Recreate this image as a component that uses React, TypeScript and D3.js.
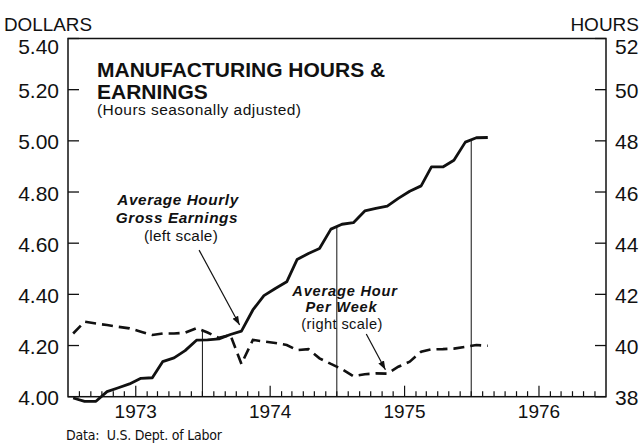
import * as d3 from "d3";
import { useMemo } from "react";

const WIDTH = 642;
const HEIGHT = 443;
const MARGIN = { top: 38.5, right: 36, bottom: 46.3, left: 68 };

// monthly observations, Jul 1972 - Aug 1975 (plotted mid-month)
const months = [
  "1972-07-15", "1972-08-15", "1972-09-15", "1972-10-15", "1972-11-15", "1972-12-15",
  "1973-01-15", "1973-02-15", "1973-03-15", "1973-04-15", "1973-05-15", "1973-06-15",
  "1973-07-15", "1973-08-15", "1973-09-15", "1973-10-15", "1973-11-15", "1973-12-15",
  "1974-01-15", "1974-02-15", "1974-03-15", "1974-04-15", "1974-05-15", "1974-06-15",
  "1974-07-15", "1974-08-15", "1974-09-15", "1974-10-15", "1974-11-15", "1974-12-15",
  "1975-01-15", "1975-02-15", "1975-03-15", "1975-04-15", "1975-05-15", "1975-06-15",
  "1975-07-15", "1975-08-15",
];

// average hourly gross earnings, dollars (left scale)
const earnings = [
  3.995, 3.982, 3.982, 4.02, 4.035, 4.05,
  4.072, 4.074, 4.137, 4.152, 4.18, 4.221,
  4.222, 4.226, 4.243, 4.256, 4.339, 4.395,
  4.423, 4.449, 4.536, 4.56, 4.579, 4.655,
  4.674, 4.68, 4.726, 4.736, 4.745, 4.775,
  4.803, 4.824, 4.898, 4.898, 4.924, 4.995,
  5.012, 5.013,
];

// average hours per week (right scale)
const hours = [
  40.47, 40.93, 40.86, 40.8, 40.73, 40.67,
  40.54, 40.41, 40.47, 40.47, 40.5, 40.68,
  40.51, 40.3, 40.41, 39.28, 40.22, 40.16,
  40.1, 40.02, 39.82, 39.86, 39.5, 39.28,
  39.08, 38.8, 38.88, 38.91, 38.9, 39.17,
  39.37, 39.76, 39.85, 39.86, 39.88, 39.95,
  40.02, 39.99,
];

const dollarTicks = [4.0, 4.2, 4.4, 4.6, 4.8, 5.0, 5.2, 5.4];
const hourTicks = [38, 40, 42, 44, 46, 48, 50, 52];
const yearLabels = ["1973", "1974", "1975", "1976"];
const markerDates = ["1973-07-01", "1974-07-01", "1975-07-01"];

const FONT = "'Liberation Sans', Arial, sans-serif";
const INK = "#111";

const parse = d3.timeParse("%Y-%m-%d");

export default function App() {
  const left = MARGIN.left;
  const right = WIDTH - MARGIN.right;
  const top = MARGIN.top;
  const bottom = HEIGHT - MARGIN.bottom;

  const dates = useMemo(() => months.map((m) => parse(m) as Date), []);

  const xScale = useMemo(
    () =>
      d3
        .scaleTime()
        .domain([new Date(1972, 6, 1), new Date(1976, 6, 1)])
        .range([left, right]),
    []
  );
  const yDollars = useMemo(() => d3.scaleLinear().domain([4.0, 5.4]).range([bottom, top]), []);
  const yHours = useMemo(() => d3.scaleLinear().domain([38, 52]).range([bottom, top]), []);

  const earnPath = d3
    .line<number>()
    .x((_, i) => xScale(dates[i]))
    .y((d) => yDollars(d))(earnings);

  const hoursPath = d3
    .line<number>()
    .x((_, i) => xScale(dates[i]))
    .y((d) => yHours(d))(hours);

  // piecewise interpolation of each series, for the drop lines
  const earnAt = d3.scaleTime().domain(dates).range(earnings);
  const hoursAt = d3.scaleTime().domain(dates).range(hours);

  const monthTicks = d3.timeMonth.range(new Date(1972, 7, 1), new Date(1976, 6, 1));

  const dropLines = markerDates.map((s, i) => {
    const d = parse(s) as Date;
    const yTop = Math.min(yDollars(earnAt(d)), yHours(hoursAt(d)));
    return (
      <line key={i} x1={xScale(d)} x2={xScale(d)} y1={yTop} y2={bottom} stroke={INK} strokeWidth={1} />
    );
  });

  // annotation arrows, anchored in data space
  const earnArrow = {
    from: [xScale(parse("1973-06-22") as Date), yDollars(4.573)],
    to: [xScale(parse("1973-10-10") as Date), yDollars(4.28)],
  };
  const hoursArrow = {
    from: [xScale(parse("1974-09-19") as Date), yHours(40.45)],
    to: [xScale(parse("1974-11-10") as Date), yHours(39.05)],
  };

  return (
    <svg
      width={WIDTH}
      height={HEIGHT}
      style={{ position: "absolute", left: 0, top: 0, background: "#fff" }}
      fontFamily={FONT}
    >
      <defs>
        <marker
          id="arrowhead"
          viewBox="0 0 10 10"
          refX={10}
          refY={5}
          markerWidth={9}
          markerHeight={9}
          markerUnits="userSpaceOnUse"
          orient="auto"
        >
          <path d="M0,1.5 L10,5 L0,8.5 Z" fill={INK} />
        </marker>
      </defs>

      {/* axis titles */}
      <text x={4} y={31} fontSize={19} fill={INK} textLength={88} lengthAdjust="spacingAndGlyphs">
        DOLLARS
      </text>
      <text x={639} y={31} fontSize={19} fill={INK} textAnchor="end">
        HOURS
      </text>

      {/* frame */}
      <rect x={left} y={top} width={right - left} height={bottom - top} fill="none" stroke={INK} strokeWidth={1.5} />

      {/* left ticks */}
      {dollarTicks.map((t, i) => (
        <g key={"l" + i}>
          <line x1={left} x2={left + 11} y1={yDollars(t)} y2={yDollars(t)} stroke={INK} strokeWidth={1.3} />
          <text
            x={59}
            y={yDollars(t) + (i === dollarTicks.length - 1 ? 8 : 1)}
            dy="0.36em"
            textAnchor="end"
            fontSize={21}
            fill={INK}
          >
            {t.toFixed(2)}
          </text>
        </g>
      ))}

      {/* right ticks */}
      {hourTicks.map((t, i) => (
        <g key={"r" + i}>
          <line x1={right - 11} x2={right} y1={yHours(t)} y2={yHours(t)} stroke={INK} strokeWidth={1.3} />
          <text
            x={615}
            y={yHours(t) + (i === hourTicks.length - 1 ? 8 : 1)}
            dy="0.36em"
            fontSize={21}
            fill={INK}
          >
            {t}
          </text>
        </g>
      ))}

      {/* month ticks */}
      {monthTicks.map((d, i) => (
        <line
          key={"m" + i}
          x1={xScale(d)}
          x2={xScale(d)}
          y1={bottom}
          y2={bottom - (d.getMonth() === 0 ? 11 : 5.5)}
          stroke={INK}
          strokeWidth={1.2}
        />
      ))}

      {yearLabels.map((y) => (
        <text key={y} x={xScale(new Date(+y, 0, 1))} y={418} textAnchor="middle" fontSize={19} fill={INK}>
          {y}
        </text>
      ))}

      {dropLines}

      <path d={hoursPath ?? ""} fill="none" stroke={INK} strokeWidth={2.6} strokeDasharray="11 6" />
      <path d={earnPath ?? ""} fill="none" stroke={INK} strokeWidth={2.8} strokeLinejoin="round" />

      {/* title */}
      <text x={97} y={77} fontSize={21} fontWeight="bold" fill={INK}>
        MANUFACTURING HOURS &amp;
      </text>
      <text x={97} y={98.5} fontSize={21} fontWeight="bold" fill={INK}>
        EARNINGS
      </text>
      <text x={97} y={115} fontSize={15.5} fill={INK} textLength={204} lengthAdjust="spacing">
        (Hours seasonally adjusted)
      </text>

      {/* series labels */}
      <g textAnchor="middle" fill={INK}>
        <g fontSize={15.3} letterSpacing={0.6}>
          <text x={178} y={205} fontWeight="bold" fontStyle="italic">Average Hourly</text>
          <text x={177} y={222.5} fontWeight="bold" fontStyle="italic">Gross Earnings</text>
          <text x={181} y={240.5} letterSpacing={0.3}>(left scale)</text>
        </g>
        <g fontSize={14.6} letterSpacing={0.8}>
          <text x={345} y={295.5} fontWeight="bold" fontStyle="italic">Average Hour</text>
          <text x={341.5} y={312} fontWeight="bold" fontStyle="italic">Per Week</text>
          <text x={342} y={328.5} letterSpacing={0.4}>(right scale)</text>
        </g>
      </g>

      <line
        x1={earnArrow.from[0]}
        y1={earnArrow.from[1]}
        x2={earnArrow.to[0]}
        y2={earnArrow.to[1]}
        stroke={INK}
        strokeWidth={1.2}
        markerEnd="url(#arrowhead)"
      />
      <line
        x1={hoursArrow.from[0]}
        y1={hoursArrow.from[1]}
        x2={hoursArrow.to[0]}
        y2={hoursArrow.to[1]}
        stroke={INK}
        strokeWidth={1.2}
        markerEnd="url(#arrowhead)"
      />

      <text
        x={66}
        y={440}
        fontSize={14}
        fontFamily="'Liberation Sans Narrow', 'DejaVu Sans Condensed', sans-serif"
        fill={INK}
        textLength={156}
        lengthAdjust="spacing"
        style={{ whiteSpace: "pre" }}
      >
        {"Data:  U.S. Dept. of Labor"}
      </text>
    </svg>
  );
}
